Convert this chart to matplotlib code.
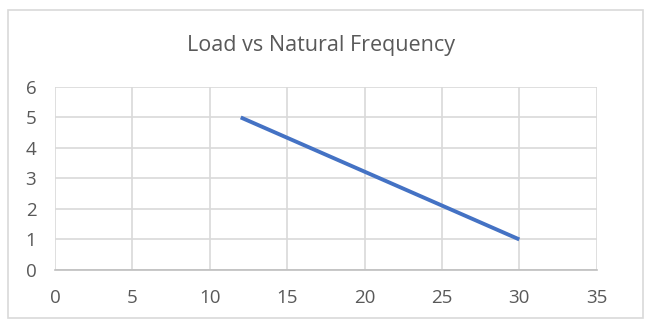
import matplotlib.pyplot as plt
from matplotlib.patches import Rectangle

# data
load = [12, 30]
natural_frequency = [5, 1]
x_ticks = [0, 5, 10, 15, 20, 25, 30, 35]
y_ticks = [0, 1, 2, 3, 4, 5, 6]

plt.rcParams['font.family'] = ['Open Sans', 'DejaVu Sans']

fig = plt.figure(figsize=(6.55, 3.28), dpi=100)
ax = fig.add_axes([0.084, 0.177, 0.827, 0.558])

ax.plot(load, natural_frequency, color='#4472C4', linewidth=2.8, solid_capstyle='butt')

ax.set_xlim(0, 35)
ax.set_ylim(0, 6)
ax.set_xticks(x_ticks)
ax.set_yticks(y_ticks)
ax.grid(True, color='#d9d9d9', linewidth=1.2)
ax.set_axisbelow(True)
for side in ['top', 'right', 'left']:
    ax.spines[side].set_visible(False)
ax.spines['bottom'].set_color('#bfbfbf')
ax.spines['bottom'].set_linewidth(1.2)
ax.tick_params(length=0, colors='#595959', labelsize=13.5)
ax.tick_params(axis='x', pad=14)
ax.tick_params(axis='y', pad=13.5)

fig.text(0.49, 1 - 51 / 328, 'Load vs Natural Frequency', ha='center', va='baseline',
         fontsize=15.5, color='#595959')

fig.patches.append(Rectangle((8 / 655, 10 / 328), 635 / 655, 308 / 328,
                             transform=fig.transFigure, fill=False,
                             edgecolor='#d9d9d9', linewidth=1.2))

fig.savefig('out.png', dpi=100)
